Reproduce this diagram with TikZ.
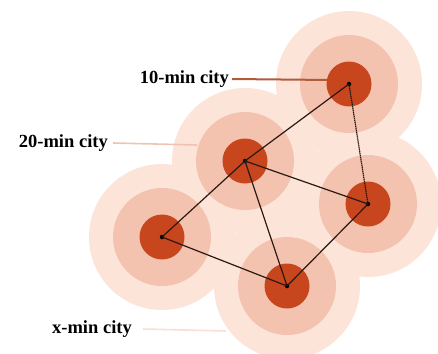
\documentclass[tikz,border=0pt]{standalone}
\usepackage{fontspec}
\setmainfont{Liberation Serif}
\begin{document}
\begin{tikzpicture}[x=1pt,y=-1pt,
  zoneouter/.style={fill=zoneA},
  zonemid/.style={fill=zoneB},
  zonecore/.style={fill=zoneC},
  citydot/.style={circle,fill=black,inner sep=0pt,minimum size=4.5pt},
  link/.style={draw=linkc,line width=1.2pt},
  lbl/.style={font=\bfseries\fontsize{18.5}{22}\selectfont,inner sep=0pt,anchor=east}
]
\definecolor{zoneA}{HTML}{FCE4D9}
\definecolor{zoneB}{HTML}{F4C3AF}
\definecolor{zoneC}{HTML}{C8461E}
\definecolor{linkc}{HTML}{2A1812}
\definecolor{tenline}{HTML}{B25A3C}
\definecolor{twentyline}{HTML}{F0C2B1}
\definecolor{xline}{HTML}{F8E0D6}
\useasboundingbox (0,0) rectangle (438,353);
\fill[white] (0,0) rectangle (438,353);

% city centres
\coordinate (pa) at (349,84);
\coordinate (pb) at (245,161);
\coordinate (pc) at (368,204);
\coordinate (pd) at (162,237);
\coordinate (pe) at (287,286);

% outer reach (x-min)
\foreach \p in {pa,pb,pc,pd,pe} \fill[zoneouter] (\p) circle (73);
% middle reach (20-min)
\foreach \p in {pa,pb,pc,pd,pe} \fill[zonemid] (\p) circle (49);

% label leaders
\node[lbl] (l10) at (229,79) {10-min city};
\node[lbl] (l20) at (108,143) {20-min city};
\node[lbl] (lx) at (132,329) {x-min city};
\coordinate (e10) at (330,80);
\coordinate (e20) at (197,145);
\coordinate (ex) at (226,331);
\draw[tenline,line width=2pt] ([xshift=3pt]l10.east) -- (e10);
\draw[twentyline,line width=1.6pt] ([xshift=5pt]l20.east) -- (e20);
\draw[xline,line width=1.6pt] ([xshift=11pt]lx.east) -- (ex);

% core (10-min)
\foreach \p in {pa,pb,pc,pd,pe} \fill[zonecore] (\p) circle (22.5);

% cities
\node[citydot] (a) at (pa) {};
\node[citydot] (b) at (pb) {};
\node[citydot] (c) at (pc) {};
\node[citydot] (d) at (pd) {};
\node[citydot] (e) at (pe) {};

% connections
\draw[link] (a.center) -- (b.center);
\draw[link,dash pattern=on 1.4pt off 0.6pt] (a.center) -- (c.center);
\draw[link] (b.center) -- (c.center);
\draw[link] (b.center) -- (d.center);
\draw[link] (b.center) -- (e.center);
\draw[link] (d.center) -- (e.center);
\draw[link] (c.center) -- (e.center);
\end{tikzpicture}
\end{document}
